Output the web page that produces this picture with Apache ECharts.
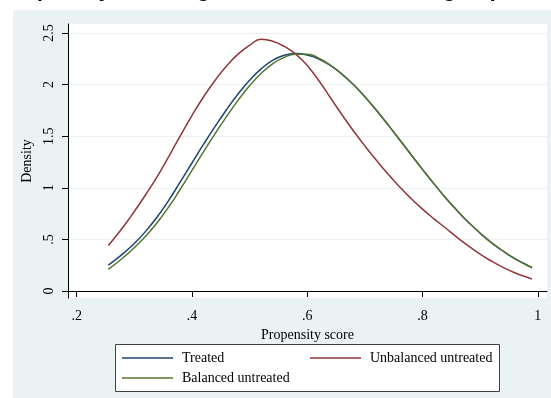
<!DOCTYPE html>
<html>
<head>
<meta charset="utf-8">
<script src="https://cdn.jsdelivr.net/npm/echarts@6/dist/echarts.min.js"></script>
<style>
  html, body { margin: 0; padding: 0; background: #fff; }
  #chart { width: 551px; height: 398px; }
</style>
</head>
<body>
<div id="chart"></div>
<script>
// propensity score grid
const scores = [0.255, 0.28, 0.30, 0.32, 0.34, 0.36, 0.38, 0.40, 0.42, 0.44, 0.46, 0.48, 0.50,
  0.52, 0.54, 0.56, 0.58, 0.60, 0.62, 0.64, 0.66, 0.68, 0.70, 0.72, 0.74, 0.76, 0.78, 0.80,
  0.82, 0.84, 0.86, 0.88, 0.90, 0.92, 0.94, 0.96, 0.98, 0.99];
// densities
const treated = [0.25, 0.36, 0.46, 0.58, 0.72, 0.88, 1.06, 1.24, 1.42, 1.592, 1.756, 1.908, 2.042,
  2.152, 2.234, 2.284, 2.30, 2.286, 2.248, 2.186, 2.102, 2.00, 1.882, 1.751, 1.612, 1.468, 1.322, 1.178,
  1.038, 0.904, 0.779, 0.664, 0.560, 0.467, 0.386, 0.314, 0.254, 0.227];
const unbalanced = [0.44, 0.615, 0.77, 0.935, 1.11, 1.305, 1.505, 1.70, 1.88, 2.04, 2.18, 2.295, 2.38,
  2.44, 2.42, 2.37, 2.295, 2.185, 2.04, 1.875, 1.71, 1.553, 1.406, 1.266, 1.134, 1.011, 0.897, 0.793,
  0.699, 0.61, 0.52, 0.435, 0.357, 0.288, 0.228, 0.177, 0.135, 0.115];
const balanced = [0.21, 0.32, 0.42, 0.532, 0.664, 0.816, 0.988, 1.168, 1.348, 1.523, 1.69, 1.847, 1.988,
  2.108, 2.201, 2.264, 2.294, 2.295, 2.255, 2.188, 2.103, 2.00, 1.882, 1.751, 1.612, 1.468, 1.322, 1.178,
  1.038, 0.904, 0.779, 0.664, 0.560, 0.467, 0.386, 0.314, 0.254, 0.225];
const xTicks = [0.2, 0.4, 0.6, 0.8, 1];
const yTicks = [0, 0.5, 1, 1.5, 2, 2.5];

const serif = 'Liberation Serif';
const fmt = v => String(+v.toFixed(2)).replace(/^0\./, '.');
const pairs = ys => scores.map((x, i) => [x, ys[i]]);

const chart = echarts.init(document.getElementById('chart'));
const lineSeries = (name, data, color) => ({
  name: name,
  type: 'line',
  data: pairs(data),
  smooth: true,
  showSymbol: false,
  symbol: 'none',
  lineStyle: { color: color, width: 1.5 },
  itemStyle: { color: color },
  emphasis: { disabled: true }
});
const legendItem = (name, left, top) => ({
  data: [name],
  left: left,
  top: top,
  z: 200,
  padding: 0,
  icon: 'rect',
  itemWidth: 51,
  itemHeight: 1.5,
  selectedMode: false,
  textStyle: { fontFamily: serif, fontSize: 14, color: '#000', padding: [0, 0, 0, 4] }
});

chart.setOption({
  backgroundColor: '#fff',
  animation: false,
  graphic: [
    // slide panel behind chart
    { type: 'rect', z: -100, shape: { x: 13, y: 10, width: 538, height: 388 }, style: { fill: '#eaf2f3' } },
    // cut-off slide title
    { type: 'text', z: -50, x: 2, y: 2,
      style: { text: 'Propensity matching: treated and untreated groups', fill: '#000',
        font: 'bold 21px "Liberation Sans"', verticalAlign: 'bottom' } },
    // legend box
    { type: 'rect', z: 100, shape: { x: 115.5, y: 344.5, width: 384, height: 47 },
      style: { fill: '#fff', stroke: '#404040', lineWidth: 1 } }
  ],
  grid: {
    left: 68, right: 4, top: 24, bottom: 100,
    show: true, backgroundColor: '#fff', borderWidth: 0
  },
  legend: [
    legendItem('Treated', 122, 351),
    legendItem('Unbalanced untreated', 310, 351),
    legendItem('Balanced untreated', 122, 371)
  ],
  xAxis: {
    type: 'value',
    min: 0.185,
    max: 1.016,
    name: 'Propensity score',
    nameLocation: 'middle',
    nameGap: 22,
    nameTextStyle: { fontFamily: serif, fontSize: 14, color: '#000' },
    axisLine: { show: true, lineStyle: { color: '#000', width: 1 } },
    axisTick: { show: true, length: 6, customValues: xTicks, lineStyle: { color: '#000' } },
    axisLabel: { customValues: xTicks, formatter: fmt, margin: 11,
      fontFamily: serif, fontSize: 14, color: '#000' },
    splitLine: { show: false }
  },
  yAxis: {
    type: 'value',
    min: -0.068,
    max: 2.587,
    name: 'Density',
    nameLocation: 'middle',
    nameGap: 30,
    nameTextStyle: { fontFamily: serif, fontSize: 14, color: '#000' },
    axisLine: { show: true, lineStyle: { color: '#000', width: 1 } },
    axisTick: { show: true, length: 6, customValues: yTicks, lineStyle: { color: '#000' } },
    axisLabel: { customValues: yTicks, formatter: fmt, rotate: 90, margin: 12,
      fontFamily: serif, fontSize: 14, color: '#000' },
    splitLine: { show: true, lineStyle: { color: '#eaf2f3', width: 1 } }
  },
  series: [
    lineSeries('Treated', treated, '#1a476f'),
    lineSeries('Unbalanced untreated', unbalanced, '#90353b'),
    lineSeries('Balanced untreated', balanced, '#55752f')
  ]
});
</script>
</body>
</html>
